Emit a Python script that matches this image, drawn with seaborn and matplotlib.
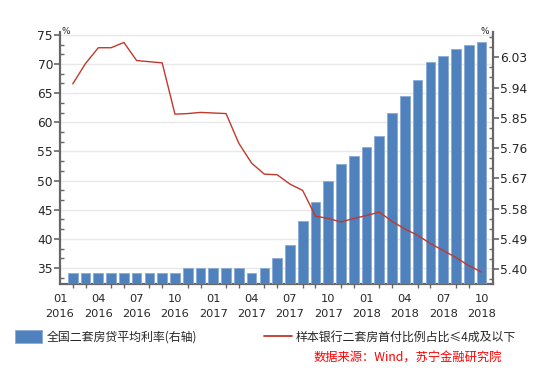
import pandas as pd
import matplotlib
matplotlib.use('Agg')
import matplotlib.pyplot as plt
from matplotlib.ticker import MultipleLocator, FixedLocator
from matplotlib.patches import Patch
from matplotlib.lines import Line2D
import seaborn as sns

# Monthly data, Jan 2016 - Sep 2018 (plotted at month end)
months = pd.period_range('2016-01', '2018-09', freq='M')

# national average second-home mortgage rate (%), right axis
avg_rate = [5.390, 5.390, 5.390, 5.390, 5.390, 5.390, 5.390, 5.390, 5.390,
            5.403, 5.403, 5.403, 5.403, 5.403, 5.390, 5.403, 5.434, 5.471,
            5.543, 5.601, 5.662, 5.712, 5.735, 5.763, 5.795, 5.865, 5.914,
            5.962, 6.017, 6.033, 6.053, 6.065, 6.076]

# share of sample banks with second-home down payment <= 40% (%), left axis
low_dp_share = [66.6, 70.1, 72.8, 72.8, 73.7, 70.6, 70.4, 70.2, 61.4, 61.5,
                61.7, 61.6, 61.5, 56.4, 53.0, 51.1, 51.0, 49.4, 48.3, 43.9,
                43.5, 42.9, 43.5, 44.0, 44.6, 43.0, 41.7, 40.6, 39.2, 38.0,
                36.8, 35.4, 34.3]

tick_months = pd.period_range('2016-01', '2018-10', freq='3M')
x_labels = [f'{p.month:02d}\n{p.year}' for p in tick_months]

bar_label = '全国二套房贷平均利率(右轴)'
line_label = '样本银行二套房首付比例占比≤4成及以下'
source = '数据来源：Wind，苏宁金融研究院'

BLUE = '#4F81BD'
RED = '#C0392B'
AXIS = '#666666'

df = pd.DataFrame({'pos': range(1, len(months) + 1),
                   'rate': avg_rate, 'share': low_dp_share})

sns.set_style('white')
plt.rcParams['font.family'] = ['DejaVu Sans', 'Noto Sans CJK SC']

fig = plt.figure(figsize=(5.5, 3.82), dpi=100)
ax = fig.add_axes([60 / 550, 1 - 284 / 382, 433 / 550, 252 / 382])
ax_bar = ax.twinx()
ax_line = ax.twinx()

# bars on the right axis
sns.barplot(data=df, x='pos', y='rate', native_scale=True, ax=ax_bar,
            color=BLUE, saturation=1, width=0.76, errorbar=None,
            edgecolor='#8AAAD6', linewidth=0.6)

# line on the left scale, drawn on top
sns.lineplot(data=df, x='pos', y='share', ax=ax_line, color=RED, linewidth=1)

ax.set_ylim(32.25, 75.5)
ax_line.set_ylim(32.25, 75.5)
ax_bar.set_ylim(5.356, 6.105)
for a in (ax, ax_bar, ax_line):
    a.set_xlim(0, 33.9)
    a.set_xlabel('')
    a.set_ylabel('')

# left axis
ax.yaxis.set_major_locator(MultipleLocator(5))
ax.yaxis.set_minor_locator(MultipleLocator(5 / 3))
ax.grid(axis='y', color='#E8E8E8', linewidth=1)
ax.set_axisbelow(True)
ax.tick_params(axis='y', which='major', direction='out', length=4,
               width=1.2, color=AXIS, labelsize=8.8, pad=1)
ax.tick_params(axis='y', which='minor', direction='in', length=3,
               width=1, color=AXIS, left=True)

# right axis
ax_bar.yaxis.set_major_locator(FixedLocator([5.40, 5.49, 5.58, 5.67, 5.76, 5.85, 5.94, 6.03]))
ax_bar.yaxis.set_minor_locator(FixedLocator([5.40 + 0.03 * i for i in range(-1, 24)]))
ax_bar.set_yticklabels(['5.40', '5.49', '5.58', '5.67', '5.76', '5.85', '5.94', '6.03'])
ax_bar.tick_params(axis='y', which='major', direction='out', length=4,
                   width=1.2, color=AXIS, labelsize=8.8, pad=1)
ax_bar.tick_params(axis='y', which='minor', direction='in', length=3,
                   width=1, color=AXIS, right=True)

# x axis
ax.xaxis.set_major_locator(FixedLocator(range(0, 34, 3)))
ax.xaxis.set_minor_locator(MultipleLocator(1))
ax.set_xticklabels(x_labels)
ax.tick_params(axis='x', which='major', direction='out', length=5,
               width=1.2, color=AXIS, labelsize=8.2, pad=2)
ax.tick_params(axis='x', which='minor', direction='out', length=3,
               width=1, color=AXIS, bottom=True)
for t in ax.get_xticklabels():
    t.set_linespacing(1.6)

ax_bar.tick_params(axis='x', which='both', bottom=False, labelbottom=False)
ax_line.tick_params(axis='both', which='both', left=False, right=False,
                    bottom=False, labelleft=False, labelright=False,
                    labelbottom=False)

for a in (ax, ax_bar, ax_line):
    for s in a.spines.values():
        s.set_visible(False)
for side in ('left', 'bottom'):
    ax.spines[side].set_visible(True)
    ax.spines[side].set_color(AXIS)
    ax.spines[side].set_linewidth(1.6)
ax_bar.spines['right'].set_visible(True)
ax_bar.spines['right'].set_color(AXIS)
ax_bar.spines['right'].set_linewidth(1.6)

fig.text(62 / 550, 1 - 31 / 382, '%', fontsize=6.5, ha='left', va='center')
fig.text(489 / 550, 1 - 31 / 382, '%', fontsize=6.5, ha='right', va='center')

# legend below the chart
handles = [Patch(facecolor=BLUE, edgecolor='#8AAAD6', linewidth=0.6),
           Line2D([], [], color=RED, linewidth=1.3)]
leg = fig.legend(handles, [bar_label, line_label], ncol=2, frameon=False,
                 loc='center left', bbox_to_anchor=(15 / 550, 1 - 337 / 382),
                 fontsize=8.6, handlelength=2.3, handleheight=1.3,
                 handletextpad=0.35, columnspacing=5.6, borderpad=0,
                 borderaxespad=0)
for t in leg.get_texts():
    t.set_family(['Noto Sans CJK SC', 'DejaVu Sans'])

fig.text(502 / 550, 1 - 358 / 382, source, color='#FF0000', fontsize=8.8,
         ha='right', va='center', style='italic',
         family=['Noto Sans CJK SC', 'DejaVu Sans'])

fig.savefig('out.png', dpi=100)
